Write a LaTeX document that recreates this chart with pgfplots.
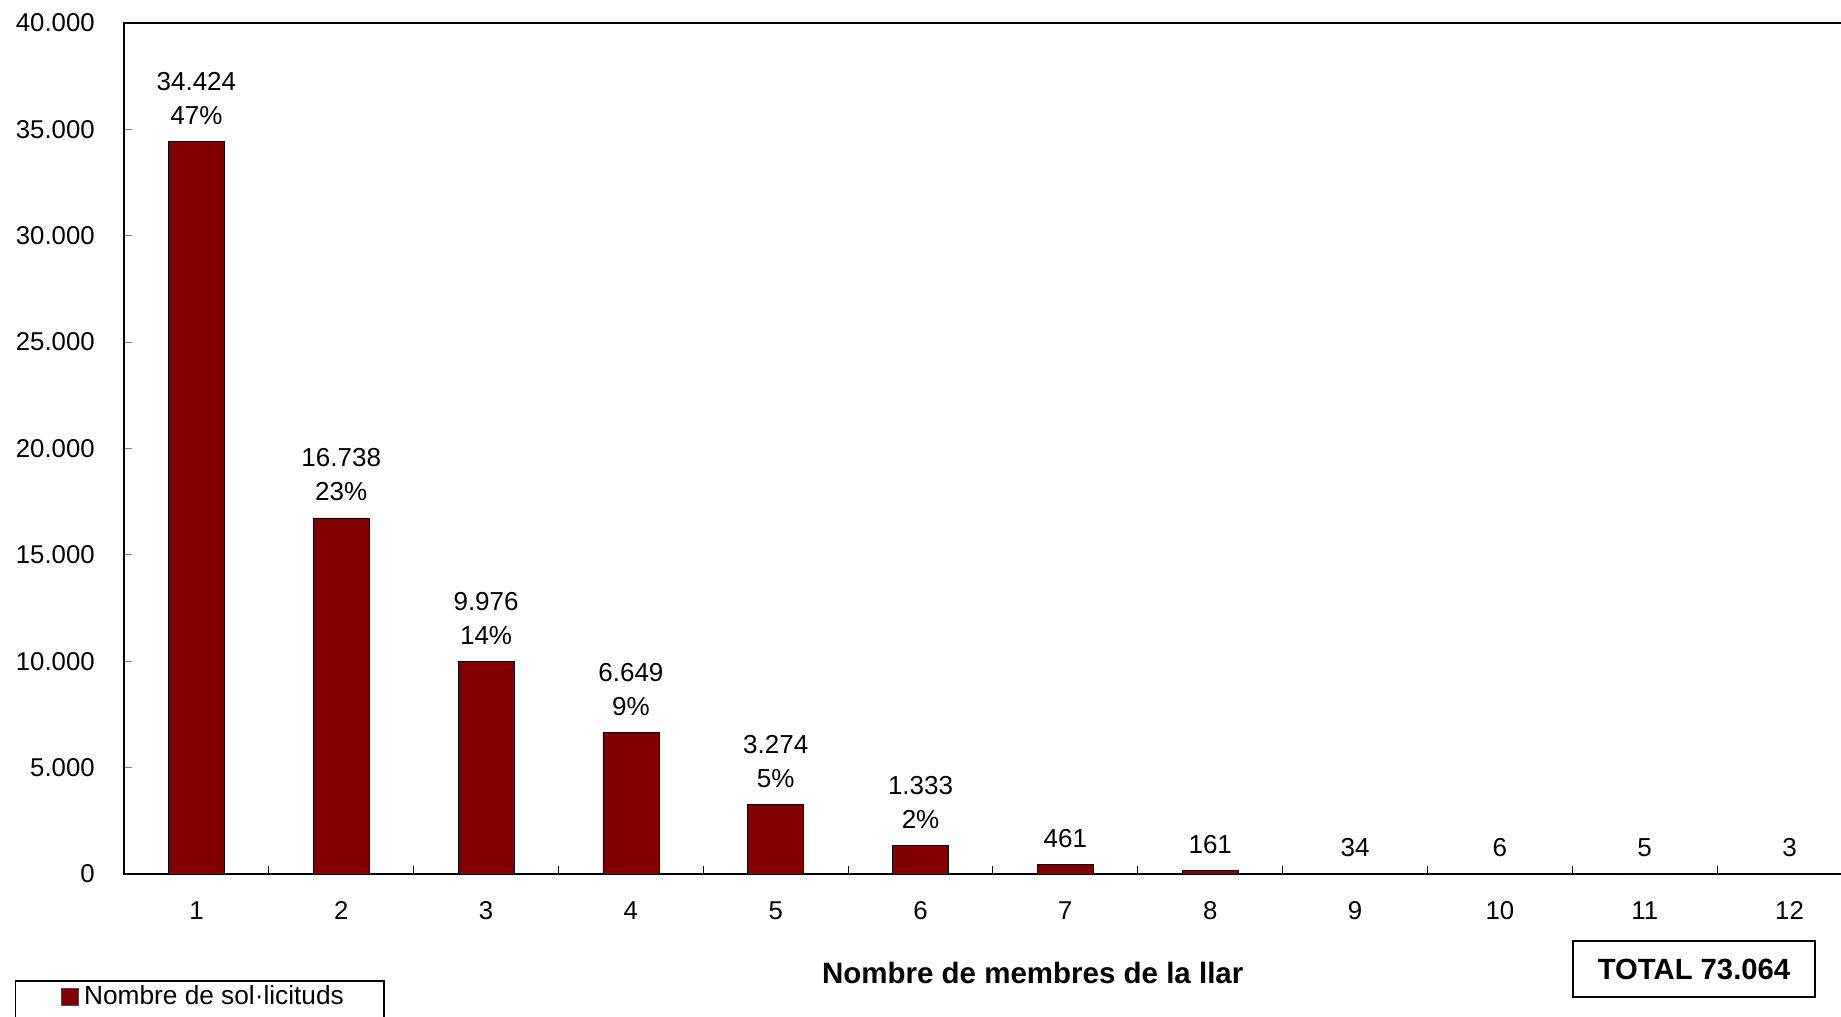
\documentclass[border=0pt]{standalone}
\usepackage{pgfplots}
\pgfplotsset{compat=1.18}
\usepackage{fontspec}
\setmainfont{Liberation Sans}
\definecolor{barred}{HTML}{800000}

\begin{document}
\begin{tikzpicture}[x=0.4pt,y=0.4pt]
\path[use as bounding box] (0,0) rectangle (1841,1017);
\begin{axis}[
    at={(49.6pt,57.2pt)}, anchor=south west,
    scale only axis,
    width=688.8pt, height=340.4pt,
    xmin=0.5, xmax=12.39,
    ymin=0, ymax=40000,
    axis line style={line width=0.8pt},
    xtick pos=bottom, ytick pos=left,
    tick align=inside,
    major tick length=3.2pt,
    ytick={0,5000,...,40000},
    scaled y ticks=false,
    /pgf/number format/.cd, 1000 sep={.}, assume math mode=true,
    /pgfplots/.cd,
    xtick={1,...,12},
    xtick style={draw=none},
    extra x ticks={1.5,2.5,...,11.5},
    extra x tick labels={},
    extra x tick style={xtick style={draw=black, line width=0.4pt}},
    ytick style={line width=0.4pt},
    tick label style={font=\fontsize{10.3}{11}\selectfont},
    y tick label style={xshift=-8.2pt},
    x tick label style={yshift=-7.4pt},
    xlabel={Nombre de membres de la llar},
    x label style={at={(axis description cs:0.5277,-0.1163)}, anchor=center,
                   font=\bfseries\fontsize{11.8}{13}\selectfont},
    legend style={at={(axis description cs:-0.0635,-0.1246)}, anchor=north west,
                  draw=black, line width=0.6pt, inner xsep=18.4pt, inner ysep=0pt,
                  font=\fontsize{10.5}{11}\selectfont},
    legend image code/.code={\draw[fill=barred, draw=black!70, line width=0.3pt]
        (0pt,-3.4pt) rectangle (6.8pt,3.4pt);
        \path (0pt,-14pt);},
]
\addplot[ybar, bar width=22.4pt, fill=barred, draw=black, line width=0.3pt,
    point meta=explicit symbolic,
    nodes near coords,
    nodes near coords style={align=center, yshift=3.2pt,
        font=\fontsize{10.4}{13.6}\selectfont}]
coordinates {
    (1,34424) [34.424\\47\%]
    (2,16738) [16.738\\23\%]
    (3,9976)  [9.976\\14\%]
    (4,6649)  [6.649\\9\%]
    (5,3274)  [3.274\\5\%]
    (6,1333)  [1.333\\2\%]
    (7,461)   [461]
    (8,161)   [161]
    (9,34)    [34]
    (10,6)    [6]
    (11,5)    [5]
    (12,3)    [3]
};
\addlegendentry{\makebox[99.6pt][l]{Nombre de sol·licituds}\rule[-8pt]{0pt}{8pt}}
\end{axis}
\node[draw=black, line width=0.8pt, minimum width=96.8pt, minimum height=22.4pt,
      inner sep=0pt, font=\bfseries\fontsize{11.7}{13}\selectfont] at (1694,48) {TOTAL 73.064};
\end{tikzpicture}
\end{document}
